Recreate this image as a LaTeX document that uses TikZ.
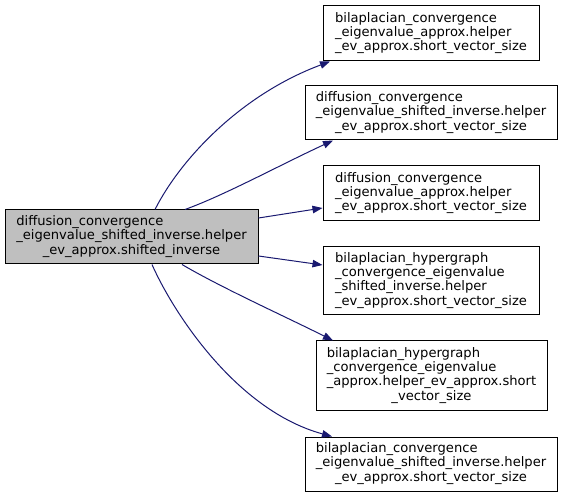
\documentclass[tikz,border=0pt]{standalone}
\usepackage{fontspec}
\setmainfont{DejaVu Sans}
\usetikzlibrary{arrows.meta}
\definecolor{edgeblue}{HTML}{191970}
\definecolor{srcfill}{HTML}{BFBFBF}
\newcommand{\dlabel}[2]{\begin{tabular}{@{}l@{}}#1\multicolumn{1}{@{}c@{}}{#2}\end{tabular}}
\tikzset{
  fnbox/.style={draw=black, line width=1pt, fill=white, inner sep=0pt,
    font=\fontsize{13.1}{14}\selectfont, text=black},
  srcbox/.style={fnbox, fill=srcfill},
  calledge/.style={draw=edgeblue, line width=1pt,
    -{Triangle[length=10pt,width=7.5pt]}, fill=none}
}
\begin{document}
\begin{tikzpicture}[x=1pt,y=-1pt]
\useasboundingbox (0,0) rectangle (563,497);
\node[srcbox, minimum width=253pt, minimum height=54pt] (src) at (131.5,237)
  {\dlabel{diffusion\_convergence\\ \_eigenvalue\_shifted\_inverse.helper\\}{\_ev\_approx.shifted\_inverse}};
\node[fnbox, minimum width=216pt, minimum height=55pt] (t1) at (431,33.5)
  {\dlabel{bilaplacian\_convergence\\ \_eigenvalue\_approx.helper\\}{\_ev\_approx.short\_vector\_size}};
\node[fnbox, minimum width=252pt, minimum height=54pt] (t2) at (431,113)
  {\dlabel{diffusion\_convergence\\ \_eigenvalue\_shifted\_inverse.helper\\}{\_ev\_approx.short\_vector\_size}};
\node[fnbox, minimum width=216pt, minimum height=55pt] (t3) at (431,193.5)
  {\dlabel{diffusion\_convergence\\ \_eigenvalue\_approx.helper\\}{\_ev\_approx.short\_vector\_size}};
\node[fnbox, minimum width=216pt, minimum height=68pt] (t4) at (431,281)
  {\dlabel{bilaplacian\_hypergraph\\ \_convergence\_eigenvalue\\ \_shifted\_inverse.helper\\}{\_ev\_approx.short\_vector\_size}};
\node[fnbox, minimum width=231pt, minimum height=70pt] (t5) at (431.5,376)
  {\dlabel{bilaplacian\_hypergraph\\ \_convergence\_eigenvalue\\ \_approx.helper\_ev\_approx.short\\}{\_vector\_size}};
\node[fnbox, minimum width=252pt, minimum height=54pt] (t6) at (431,464)
  {\dlabel{bilaplacian\_convergence\\ \_eigenvalue\_shifted\_inverse.helper\\}{\_ev\_approx.short\_vector\_size}};
% edges
\draw[calledge] ([xshift=23.5pt]src.north) .. controls (180,160) and (240,95) .. ([xshift=-101pt]t1.south);
\draw[calledge] ([xshift=53.5pt]src.north) .. controls (225,195) and (280,165) .. ([xshift=-98pt]t2.south);
\draw[calledge] ([yshift=19pt]src.east) -- ([yshift=-14.5pt]t3.west);
\draw[calledge] ([yshift=-19pt]src.east) -- ([yshift=16pt]t4.west);
\draw[calledge] ([xshift=50.5pt]src.south) .. controls (222,288) and (282,315) .. ([xshift=-98.5pt]t5.north);
\draw[calledge] ([xshift=20.5pt]src.south) .. controls (172,310) and (235,410) .. ([xshift=-99pt]t6.north);
\end{tikzpicture}
\end{document}
